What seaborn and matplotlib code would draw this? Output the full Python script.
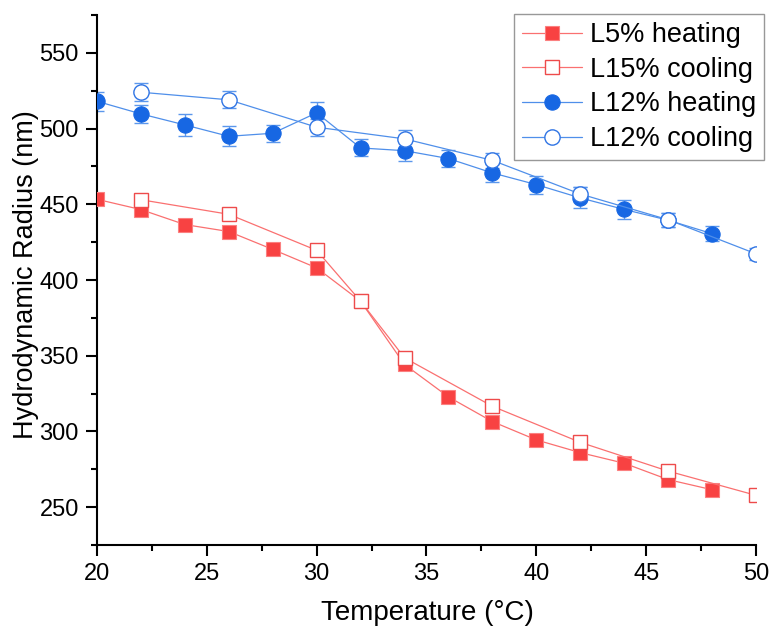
import numpy as np
import pandas as pd
import matplotlib
matplotlib.use("Agg")
import matplotlib.pyplot as plt
import seaborn as sns
from matplotlib.ticker import MultipleLocator

# ---- data ----
l5_heat_T = [20, 22, 24, 26, 28, 30, 32, 34, 36, 38, 40, 42, 44, 46, 48]
l5_heat_R = [453.3, 446.5, 436.6, 432.0, 420.2, 408.0, 386.0, 344.2, 322.8, 306.5, 294.4, 286.0, 279.0, 268.2, 261.5]
l5_heat_E = [1.5] * 15

l15_cool_T = [22, 26, 30, 32, 34, 38, 42, 46, 50]
l15_cool_R = [453.0, 443.4, 419.6, 386.0, 348.6, 316.6, 292.8, 273.8, 257.8]
l15_cool_E = [3.0, 2.0, 3.0, 2.0, 3.5, 3.0, 4.0, 3.0, 3.0]

l12_heat_T = [20, 22, 24, 26, 28, 30, 32, 34, 36, 38, 40, 42, 44, 46, 48]
l12_heat_R = [518.0, 509.7, 502.4, 494.9, 496.9, 510.4, 487.2, 485.4, 480.2, 470.7, 463.0, 454.2, 446.6, 439.5, 430.6]
l12_heat_E = [6.3, 5.7, 7.0, 6.5, 5.5, 7.2, 5.6, 6.9, 5.5, 6.0, 6.0, 6.9, 6.2, 4.5, 5.1]

l12_cool_T = [22, 26, 30, 34, 38, 42, 46, 50]
l12_cool_R = [524.0, 519.0, 500.9, 493.2, 479.0, 456.8, 439.8, 417.3]
l12_cool_E = [6.0, 5.5, 5.7, 6.0, 5.1, 4.4, 4.6, 4.0]

series_names = ["L5% heating", "L15% cooling", "L12% heating", "L12% cooling"]

sns.set_theme(style="ticks")
plt.rcParams['font.family'] = ['Liberation Sans', 'DejaVu Sans']
plt.rcParams['text.color'] = 'black'
plt.rcParams['axes.labelcolor'] = 'black'

fig = plt.figure(figsize=(7.69, 6.28), dpi=100)
ax = fig.add_axes([97/769, 1 - 545/628, (756-97)/769, (545-15)/628])

red_m = "#F84242"
red_l = "#FA7070"
red_e = "#FB8A8A"
blue_m = "#1767E3"
blue_l = "#4F8FEA"
blue_e = "#5B97EC"

specs = [
    (l5_heat_T, l5_heat_R, l5_heat_E, dict(marker="s", color=red_l, markerfacecolor=red_m,
                                           markeredgecolor="#FB8080", markersize=10.5, markeredgewidth=0.8), red_e),
    (l15_cool_T, l15_cool_R, l15_cool_E, dict(marker="s", color=red_l, markerfacecolor="white",
                                              markeredgecolor="#EE4B4B", markersize=10, markeredgewidth=1.0), red_e),
    (l12_heat_T, l12_heat_R, l12_heat_E, dict(marker="o", color=blue_l, markerfacecolor=blue_m,
                                              markeredgecolor=blue_m, markersize=11, markeredgewidth=0.8), blue_e),
    (l12_cool_T, l12_cool_R, l12_cool_E, dict(marker="o", color=blue_l, markerfacecolor="white",
                                              markeredgecolor="#2F74E4", markersize=11, markeredgewidth=1.0), blue_e),
]

for (T, R, E, kw, ecol), name in zip(specs, series_names):
    ax.errorbar(T, R, yerr=E, fmt="none", ecolor=ecol, elinewidth=1.0, capsize=5, capthick=1.0, zorder=2)
    df = pd.DataFrame({"T": T, "R": R})
    sns.lineplot(data=df, x="T", y="R", ax=ax, linewidth=0.9, label=name, zorder=3, **kw)

ax.set_xlim(20, 50)
ax.set_ylim(225, 575)
ax.xaxis.set_major_locator(MultipleLocator(5))
ax.xaxis.set_minor_locator(MultipleLocator(2.5))
ax.yaxis.set_major_locator(MultipleLocator(50))
ax.yaxis.set_minor_locator(MultipleLocator(25))
ax.set_yticks([250, 300, 350, 400, 450, 500, 550])

ax.tick_params(axis="both", which="major", direction="out", length=8, width=1.5,
               labelsize=17, color="black", labelcolor="black", pad=5)
ax.tick_params(axis="both", which="minor", direction="out", length=4, width=1.5, color="black")

for s in ["top", "right"]:
    ax.spines[s].set_visible(False)
for s in ["left", "bottom"]:
    ax.spines[s].set_linewidth(1.5)
    ax.spines[s].set_color("black")

ax.set_xlabel("Temperature (°C)", fontsize=20, color="black")
ax.set_ylabel("Hydrodynamic Radius (nm)", fontsize=19.5, color="black")
ax.xaxis.set_label_coords((427 - 97) / 659, (545 - 613) / 530)
ax.xaxis.label.set_va("center")
ax.yaxis.set_label_coords((26 - 97) / 659, (545 - 275) / 530)
ax.yaxis.label.set_va("center")

leg = ax.legend(loc="upper right", bbox_to_anchor=(764/769, 1 - 14/628), bbox_transform=fig.transFigure,
                fontsize=19.5, frameon=True, fancybox=False, edgecolor="#7F7F7F",
                handlelength=2.2, handletextpad=0.3, borderpad=0.3, labelspacing=0.32,
                borderaxespad=0.0)
leg.get_frame().set_linewidth(1.0)
for t in leg.get_texts():
    t.set_color("black")

fig.savefig("out.png", dpi=100)
